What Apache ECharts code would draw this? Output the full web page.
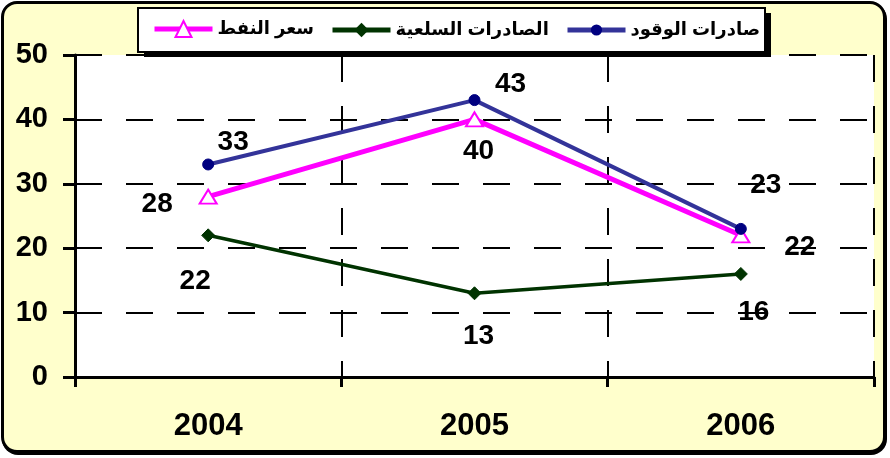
<!DOCTYPE html>
<html lang="ar">
  <head>
    <meta charset="UTF-8" />
    <title>Exports chart</title>
    <style>
      body {
        margin: 0;
        background: #fff;
      }
      #frame {
        position: absolute;
        left: 1px;
        top: 1px;
        width: 885px;
        height: 452px;
        box-sizing: border-box;
        border: 3px solid #000;
        border-radius: 16px;
        background: #ffffcc;
        box-shadow: 1px 2px 0 #000;
      }
      #main {
        position: absolute;
        left: 0;
        top: 0;
        width: 890px;
        height: 458px;
      }
    </style>
  </head>
  <body>
    <script src="https://cdn.jsdelivr.net/npm/echarts@6.0.0/dist/echarts.min.js"></script>
    <div id="frame"></div>
    <div id="main"></div>
    <script>
      const years = ['2004', '2005', '2006']
      const fuelExports = [33, 43, 23]
      const goodsExports = [22, 13, 16]
      const oilPrice = [28, 40, 22]
      const seriesNames = ['صادرات الوقود', 'الصادرات السلعية', 'سعر النفط']

      const font = 'Arial, "Liberation Sans", "DejaVu Sans", sans-serif'
      const dash = [27, 24]

      // label placement around each point (centre offset in px)
      const fuelOffsets = [[25, -22], [36, -16], [25, -44]]
      const goodsOffsets = [[-13, 46], [4, 43], [13, 38]]
      const oilOffsets = [[-51, 8], [4, 32], [59, 12]]

      function withLabels(values, offsets) {
        return values.map((v, i) => ({ value: v, label: { offset: offsets[i] } }))
      }

      const pointLabel = {
        show: true,
        position: 'inside',
        color: '#000',
        fontSize: 28,
        fontWeight: 'bold',
        fontFamily: font,
        textBorderWidth: 0
      }

      // one legend per series so each entry sits where the original has it
      function legendAt(name, left, iconH) {
        return {
          left,
          top: 30 - Math.max(iconH, 18) / 2,
          padding: 0,
          itemWidth: 58,
          itemHeight: iconH,
          itemGap: 6,
          selectedMode: false,
          data: [name],
          lineStyle: { width: 5 },
          textStyle: {
            color: '#000',
            fontSize: 18,
            fontWeight: 'bold',
            fontFamily: font
          }
        }
      }

      const chart = echarts.init(document.getElementById('main'))
      chart.setOption({
        backgroundColor: 'transparent',
        animation: false,
        graphic: [
          {
            type: 'rect',
            z: 3,
            shape: { x: 144, y: 13, width: 627, height: 44 },
            style: { fill: '#000' }
          },
          {
            type: 'rect',
            z: 3,
            shape: { x: 138, y: 8, width: 627, height: 44 },
            style: { fill: '#fff', stroke: '#000', lineWidth: 2 }
          }
        ],
        legend: [
          legendAt(seriesNames[2], 152, 20),
          legendAt(seriesNames[1], 330, 18),
          legendAt(seriesNames[0], 565, 14)
        ],
        grid: {
          left: 75,
          right: 16,
          top: 55,
          bottom: 81,
          show: true,
          backgroundColor: '#fff',
          borderWidth: 0
        },
        xAxis: {
          type: 'category',
          data: years,
          boundaryGap: true,
          axisLine: { lineStyle: { color: '#000', width: 3 } },
          axisTick: { show: true, length: 10, lineStyle: { color: '#000', width: 3 } },
          axisLabel: {
            color: '#000',
            fontSize: 31,
            fontWeight: 'bold',
            fontFamily: font,
            margin: 34
          },
          splitLine: { show: true, lineStyle: { color: '#000', width: 2, type: dash } }
        },
        yAxis: {
          type: 'value',
          min: 0,
          max: 50,
          interval: 10,
          axisLine: { show: true, lineStyle: { color: '#000', width: 3 } },
          axisTick: { show: true, length: 12, lineStyle: { color: '#000', width: 3 } },
          axisLabel: {
            color: '#000',
            fontSize: 29,
            fontWeight: 'bold',
            fontFamily: font,
            margin: 27
          },
          splitLine: { show: true, lineStyle: { color: '#000', width: 2, type: dash } }
        },
        series: [
          {
            name: seriesNames[1],
            type: 'line',
            data: withLabels(goodsExports, goodsOffsets),
            symbol: 'diamond',
            symbolSize: 13,
            lineStyle: { color: '#003300', width: 3.5 },
            itemStyle: { color: '#003300', borderColor: '#003300' },
            label: pointLabel,
            emphasis: { disabled: true },
            z: 3
          },
          {
            name: seriesNames[2],
            type: 'line',
            data: withLabels(oilPrice, oilOffsets),
            symbol: 'triangle',
            symbolSize: [17, 14],
            lineStyle: { color: '#ff00ff', width: 5 },
            itemStyle: { color: '#fff', borderColor: '#ff00ff', borderWidth: 2 },
            label: pointLabel,
            emphasis: { disabled: true },
            z: 4
          },
          {
            name: seriesNames[0],
            type: 'line',
            data: withLabels(fuelExports, fuelOffsets),
            symbol: 'circle',
            symbolSize: 11,
            lineStyle: { color: '#333399', width: 4 },
            itemStyle: { color: '#000080', borderColor: '#000080' },
            label: pointLabel,
            emphasis: { disabled: true },
            z: 5
          }
        ]
      })
    </script>
  </body>
</html>
